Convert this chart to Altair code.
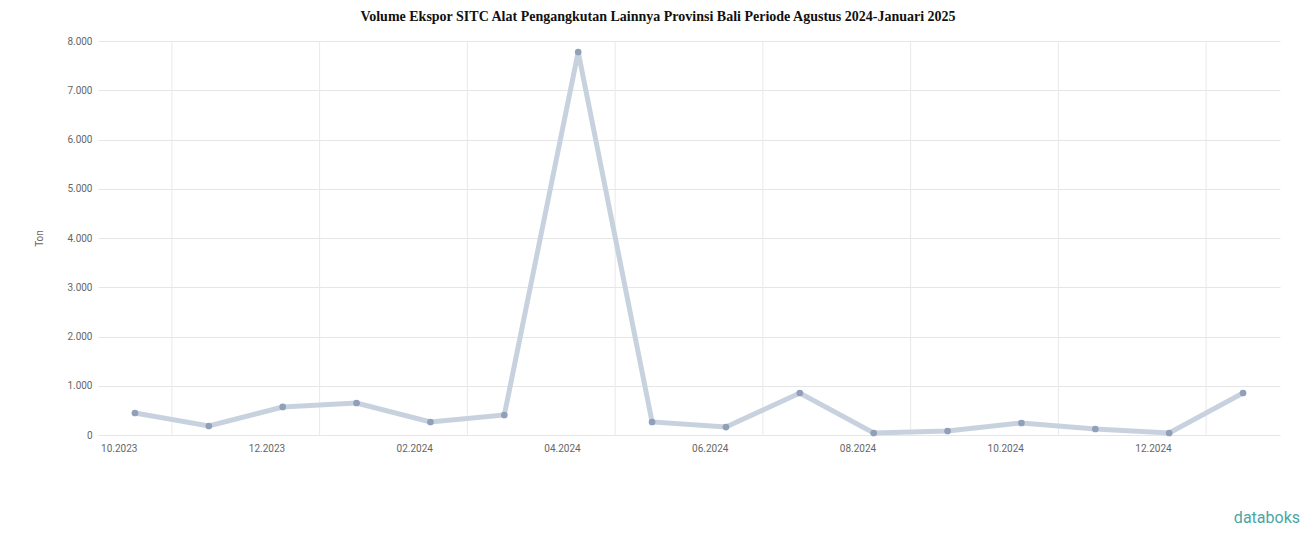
import altair as alt
import pandas as pd

months = ["10.2023", "11.2023", "12.2023", "01.2024", "02.2024", "03.2024", "04.2024", "05.2024",
          "06.2024", "07.2024", "08.2024", "09.2024", "10.2024", "11.2024", "12.2024", "01.2025"]
values = [447, 183, 569, 650, 264, 406, 7777, 264, 162, 853, 41, 81, 244, 122, 41, 853]
grid_x = [0.5, 2.5, 4.5, 6.5, 8.5, 10.5, 12.5, 14.5]
label_idx = [0, 2, 4, 6, 8, 10, 12, 14]

df = pd.DataFrame({"i": list(range(len(months))), "bulan": months, "volume": values})
grid_df = pd.DataFrame({"i": grid_x})

label_js = "[" + ",".join("'" + m + "'" for m in months) + "][datum.value]"

xscale = alt.Scale(domain=[-0.5, len(months) - 0.5], nice=False, zero=False)
yscale = alt.Scale(domain=[0, 8000], nice=False)

xaxis = alt.Axis(values=label_idx, labelExpr=label_js, title=None, grid=False,
                 ticks=False, domain=False, labelAlign="right", labelPadding=8,
                 labelFontSize=10, labelColor="#666666", labelFont="Roboto",
                 labelBaseline="top", labelOffset=2)

vgrid = alt.Chart(grid_df).mark_rule(color="#e9e9e9", strokeWidth=1).encode(
    x=alt.X("i:Q", scale=xscale, axis=xaxis),
)

base = alt.Chart(df).encode(
    x=alt.X("i:Q", scale=xscale, axis=xaxis),
    y=alt.Y("volume:Q", scale=yscale,
            axis=alt.Axis(values=[0, 1000, 2000, 3000, 4000, 5000, 6000, 7000, 8000],
                          labelExpr="replace(format(datum.value, ','), ',', '.')",
                          title="Ton", titleFontSize=10, titleColor="#666666", titleFont="Roboto",
                          titleFontWeight="normal", titlePadding=22,
                          grid=True, gridColor="#e6e6e6", ticks=False, domain=False,
                          labelFontSize=10, labelColor="#666666", labelFont="Roboto",
                          labelPadding=6)),
)

line = base.mark_line(color="#c8d2df", strokeWidth=5)
points = base.mark_circle(color="#8fa0b8", size=45, opacity=1)

logo = alt.Chart(pd.DataFrame({"t": ["databoks"]})).mark_text(
    color="#4aa6a6", fontSize=16, font="Roboto", align="right", baseline="middle"
).encode(text="t:N", x=alt.value(1202), y=alt.value(477))

chart = alt.layer(vgrid, line, points, logo).properties(
    width=1182, height=394,
    title=alt.TitleParams(
        "Volume Ekspor SITC Alat Pengangkutan Lainnya Provinsi Bali Periode Agustus 2024-Januari 2025",
        font="Liberation Serif", fontSize=14, fontWeight="bold", color="#111111",
        anchor="middle", dx=-31, offset=12),
    autosize=alt.AutoSizeParams(type="none"),
    padding={"left": 90, "top": 33, "right": 28, "bottom": 100},
).configure_view(stroke=None)

chart.save("out.html", embed_options={"renderer": "svg", "actions": False})
